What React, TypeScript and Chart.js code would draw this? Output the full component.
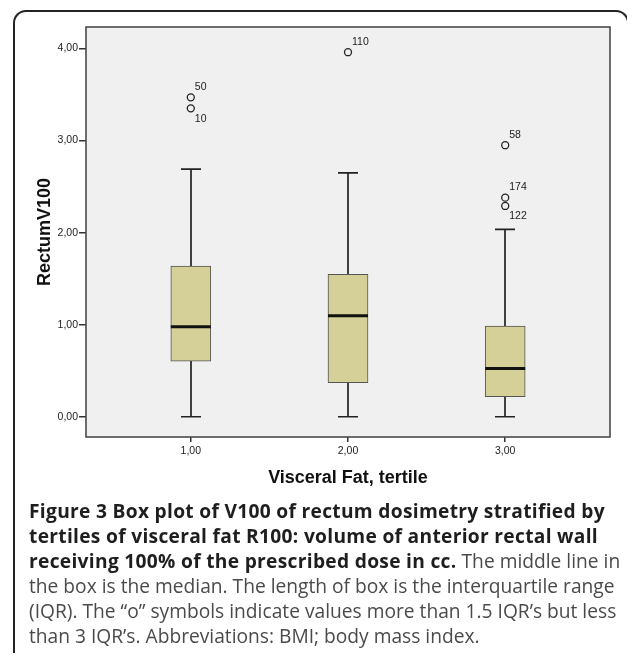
import React, { useEffect, useRef } from 'react';
import { Chart, registerables } from 'chart.js';

Chart.register(...registerables);

// ---- data ----
const groups = [1, 2, 3];
const xTickLabels = ['1,00', '2,00', '3,00'];
const whiskerLow = [0, 0, 0];
const q1 = [0.605, 0.369, 0.217];
const medians = [0.977, 1.097, 0.525];
const q3 = [1.636, 1.546, 0.985];
const whiskerHigh = [2.69, 2.65, 2.035];
const outlierGroup = [1, 1, 2, 3, 3, 3];
const outlierValue = [3.47, 3.35, 3.96, 2.95, 2.38, 2.29];
const outlierId = ['50', '10', '110', '58', '174', '122'];
const yTickValues = [0, 1, 2, 3, 4];
const yTickLabels = ['0,00', '1,00', '2,00', '3,00', '4,00'];
const xTitle = 'Visceral Fat, tertile';
const yTitle = 'RectumV100';

const FONT = '"Liberation Sans", Arial, sans-serif';

const boxPlugin = {
  id: 'spssBox',
  beforeDraw(chart: any) {
    const { ctx, chartArea: a } = chart;
    ctx.save();
    ctx.fillStyle = '#f0f0f0';
    ctx.fillRect(a.left, a.top, a.right - a.left, a.bottom - a.top);
    ctx.restore();
  },
  beforeDatasetsDraw(chart: any) {
    const { ctx } = chart;
    const xs = chart.scales.x;
    const ys = chart.scales.y;
    ctx.save();
    ctx.strokeStyle = '#222';
    ctx.lineWidth = 1.7;
    groups.forEach((g, i) => {
      const px = Math.round(xs.getPixelForValue(g));
      const yLo = ys.getPixelForValue(whiskerLow[i]);
      const yHi = ys.getPixelForValue(whiskerHigh[i]);
      ctx.beginPath();
      ctx.moveTo(px, yLo);
      ctx.lineTo(px, yHi);
      ctx.moveTo(px - 10, yLo);
      ctx.lineTo(px + 10, yLo);
      ctx.moveTo(px - 10, yHi);
      ctx.lineTo(px + 10, yHi);
      ctx.stroke();
    });
    ctx.restore();
  },
  afterDatasetsDraw(chart: any) {
    const { ctx, chartArea: a } = chart;
    const xs = chart.scales.x;
    const ys = chart.scales.y;
    ctx.save();
    ctx.strokeStyle = '#111';
    ctx.lineWidth = 3;
    groups.forEach((g, i) => {
      const px = xs.getPixelForValue(g);
      const y = ys.getPixelForValue(medians[i]);
      ctx.beginPath();
      ctx.moveTo(px - 20, y);
      ctx.lineTo(px + 20, y);
      ctx.stroke();
    });
    // outlier labels
    ctx.fillStyle = '#222';
    ctx.font = '10.5px ' + FONT;
    ctx.textAlign = 'left';
    ctx.textBaseline = 'middle';
    outlierValue.forEach((v, i) => {
      const g = outlierGroup[i];
      const px = xs.getPixelForValue(g);
      const py = ys.getPixelForValue(v);
      const hasCloseAbove = outlierValue.some(
        (w, j) => j !== i && outlierGroup[j] === g && w > v && w - v < 0.2
      );
      const dy = hasCloseAbove ? 10.5 : -10.5;
      ctx.fillText(outlierId[i], px + 4, py + dy);
    });
    // plot frame
    ctx.strokeStyle = '#4a4a4a';
    ctx.lineWidth = 1.6;
    ctx.strokeRect(a.left, a.top, a.right - a.left, a.bottom - a.top);
    ctx.restore();
  },
};

function BoxChart() {
  const ref = useRef<HTMLCanvasElement | null>(null);
  useEffect(() => {
    if (!ref.current) return;
    const chart = new Chart(ref.current, {
      type: 'bar',
      data: {
        datasets: [
          {
            type: 'bar',
            data: groups.map((g, i) => ({ x: g, y: [q1[i], q3[i]] })) as any,
            backgroundColor: '#d4d098',
            borderColor: '#555',
            borderWidth: 1,
            borderSkipped: false,
            barThickness: 40,
            order: 2,
          } as any,
          {
            type: 'scatter',
            data: outlierGroup.map((g, i) => ({ x: g, y: outlierValue[i] })),
            pointRadius: 3.5,
            pointBorderColor: '#222',
            pointBackgroundColor: 'rgba(0,0,0,0)',
            pointBorderWidth: 1.3,
            order: 1,
          } as any,
        ],
      },
      options: {
        responsive: false,
        animation: false,
        devicePixelRatio: 1,
        layout: { padding: { left: 0, top: 19, right: 17, bottom: 0 } },
        plugins: { legend: { display: false }, tooltip: { enabled: false } },
        scales: {
          x: {
            type: 'linear',
            min: 1 / 3,
            max: 11 / 3,
            offset: false,
            afterBuildTicks: (s: any) => {
              s.ticks = groups.map((v) => ({ value: v }));
            },
            afterFit: (s: any) => {
              s.height = 61;
            },
            ticks: {
              callback: (v: any) => xTickLabels[groups.indexOf(Number(v))] ?? '',
              font: { family: FONT, size: 10.5 },
              color: '#222',
              padding: 3,
              autoSkip: false,
              maxRotation: 0,
            },
            grid: {
              offset: false,
              drawOnChartArea: false,
              drawTicks: true,
              tickLength: 5,
              color: '#333',
              lineWidth: 1.5,
            },
            border: { display: false },
            title: {
              display: true,
              text: xTitle,
              font: { family: FONT, size: 18, weight: 'bold' },
              color: '#111',
              padding: { top: 0, bottom: 9 },
            },
          },
          y: {
            type: 'linear',
            min: -0.22,
            max: 4.234,
            afterBuildTicks: (s: any) => {
              s.ticks = yTickValues.map((v) => ({ value: v }));
            },
            afterFit: (s: any) => {
              s.width = 78;
            },
            ticks: {
              callback: (v: any) => yTickLabels[yTickValues.indexOf(Number(v))] ?? '',
              font: { family: FONT, size: 10.5 },
              color: '#222',
              padding: 1,
            },
            grid: { drawOnChartArea: false, drawTicks: true, tickLength: 7, color: '#333', lineWidth: 1.5 },
            border: { display: false },
            title: {
              display: true,
              text: yTitle,
              font: { family: FONT, size: 18, weight: 'bold' },
              color: '#111',
              padding: { top: 26, bottom: 0 },
            },
          },
        },
      } as any,
      plugins: [boxPlugin],
    });
    return () => chart.destroy();
  }, []);
  return <canvas ref={ref} width={619} height={490} style={{ width: 619, height: 490, display: 'block' }} />;
}

const captionBold = '#1e1e1e';
const captionGray = '#4a4a4a';

export default function App() {
  const lineStyle: React.CSSProperties = { whiteSpace: 'nowrap', height: 25, lineHeight: '25px' };
  const boldStyle: React.CSSProperties = { color: captionBold, letterSpacing: 0.3 };
  return (
    <div style={{ position: 'relative', width: 619, height: 645, background: '#fff' }}>
      <div
        style={{
          position: 'absolute',
          left: 5,
          top: 2,
          width: 600,
          height: 648,
          borderTop: '2px solid #222',
          borderLeft: '2px solid #222',
          borderTopLeftRadius: 13,
          boxSizing: 'border-box',
        }}
      />
      <div
        style={{
          position: 'absolute',
          left: 598,
          top: 2,
          width: 23,
          height: 16,
          borderTop: '2px solid #222',
          borderRight: '2px solid #222',
          borderTopRightRadius: 13,
          boxSizing: 'border-box',
        }}
      />
      <div style={{ position: 'absolute', left: 0, top: 0 }}>
        <BoxChart />
      </div>
      <div
        style={{
          position: 'absolute',
          left: 21,
          top: 489.5,
          fontFamily: '"Open Sans", "Noto Sans", sans-serif',
          fontSize: 19.2,
          color: captionGray,
        }}
      >
        <div style={lineStyle}>
          <b style={boldStyle}>Figure 3 Box plot of V100 of rectum dosimetry stratified by</b>
        </div>
        <div style={lineStyle}>
          <b style={boldStyle}>tertiles of visceral fat R100: volume of anterior rectal wall</b>
        </div>
        <div style={lineStyle}>
          <b style={boldStyle}>receiving 100% of the prescribed dose in cc.</b> The middle line in
        </div>
        <div style={lineStyle}>the box is the median. The length of box is the interquartile range</div>
        <div style={lineStyle}>(IQR). The “o” symbols indicate values more than 1.5 IQR’s but less</div>
        <div style={lineStyle}>than 3 IQR’s. Abbreviations: BMI; body mass index.</div>
      </div>
    </div>
  );
}
